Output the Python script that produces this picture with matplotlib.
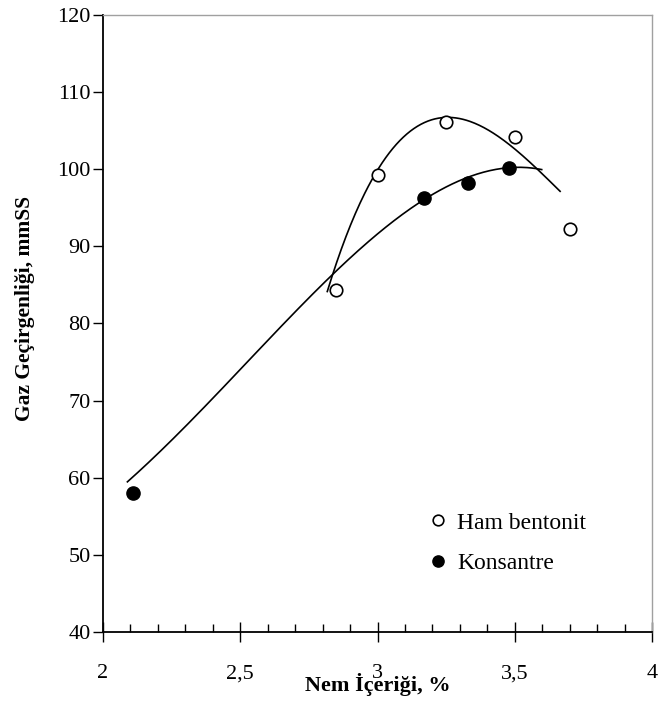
import numpy as np
import matplotlib.pyplot as plt
from matplotlib.ticker import MultipleLocator, FuncFormatter

plt.rcParams['font.family'] = ['Liberation Serif', 'DejaVu Serif']

ham_x = [2.85, 3.00, 3.25, 3.50, 3.70]
ham_y = [84.3, 99.2, 106.1, 104.1, 92.2]
kon_x = [2.11, 3.17, 3.33, 3.48]
kon_y = [58.1, 96.2, 98.2, 100.1]

# trend curves as drawn in the chart
ham_trend_x = [2.817, 2.839, 2.912, 3.003, 3.13, 3.252, 3.41, 3.519, 3.58, 3.665]
ham_trend_y = [84.1, 86.6, 94.1, 99.3, 105.5, 106.8, 105.1, 101.8, 99.9, 97.3]
kon_trend_x = [2.089, 2.28, 2.475, 2.65, 2.827, 3.009, 3.17, 3.228, 3.331, 3.47, 3.598]
kon_trend_y = [59.4, 66.2, 72.9, 79.5, 86.3, 91.7, 96.2, 97.4, 98.8, 100.1, 100.0]

fig = plt.figure(figsize=(6.6, 7.04), dpi=100)
ax = fig.add_axes([0.156, 0.102, 0.832, 0.877])

# smooth polynomial through the read trend values
for tx, ty, deg in [(ham_trend_x, ham_trend_y, 3), (kon_trend_x, kon_trend_y, 4)]:
    p = np.polyfit(tx, ty, deg)
    xx = np.linspace(min(tx), max(tx), 200)
    ax.plot(xx, np.polyval(p, xx), color='black', lw=1.2, zorder=2)

ax.plot(ham_x, ham_y, 'o', ms=9, mfc='white', mec='black', mew=1.2,
        ls='none', label='Ham bentonit', zorder=3)
ax.plot(kon_x, kon_y, 'o', ms=9.5, mfc='black', mec='black',
        ls='none', label='Konsantre', zorder=3)

ax.set_xlim(2, 4)
ax.set_ylim(40, 120)
ax.xaxis.set_major_locator(MultipleLocator(0.5))
ax.xaxis.set_minor_locator(MultipleLocator(0.1))
ax.yaxis.set_major_locator(MultipleLocator(10))
ax.xaxis.set_major_formatter(FuncFormatter(lambda v, p: ('%g' % v).replace('.', ',')))

ax.tick_params(axis='x', which='major', direction='inout', length=14, width=1,
               labelsize=16, pad=16)
ax.tick_params(axis='x', which='minor', direction='in', length=6, width=1)
ax.tick_params(axis='y', which='major', direction='out', length=7, width=1,
               labelsize=16, pad=2)

for s in ['left', 'bottom']:
    ax.spines[s].set_linewidth(1.3)
for s in ['top', 'right']:
    ax.spines[s].set_color('#a0a0a0')
    ax.spines[s].set_linewidth(1.0)

ax.set_xlabel('Nem İçeriği, %', fontsize=16, fontweight='bold')
ax.xaxis.set_label_coords(0.5, -0.0665)
ax.set_ylabel('Gaz Geçirgenliği, mmSS', fontsize=15.5, fontweight='bold')
ax.yaxis.set_label_coords(-0.124, 0.524)

ax.legend(loc='upper left', bbox_to_anchor=(0.58, 0.21), frameon=False,
          fontsize=17, handlelength=0.6, handletextpad=0.5, labelspacing=0.8,
          borderaxespad=0, markerscale=0.85)

fig.savefig('out.png', dpi=100)
